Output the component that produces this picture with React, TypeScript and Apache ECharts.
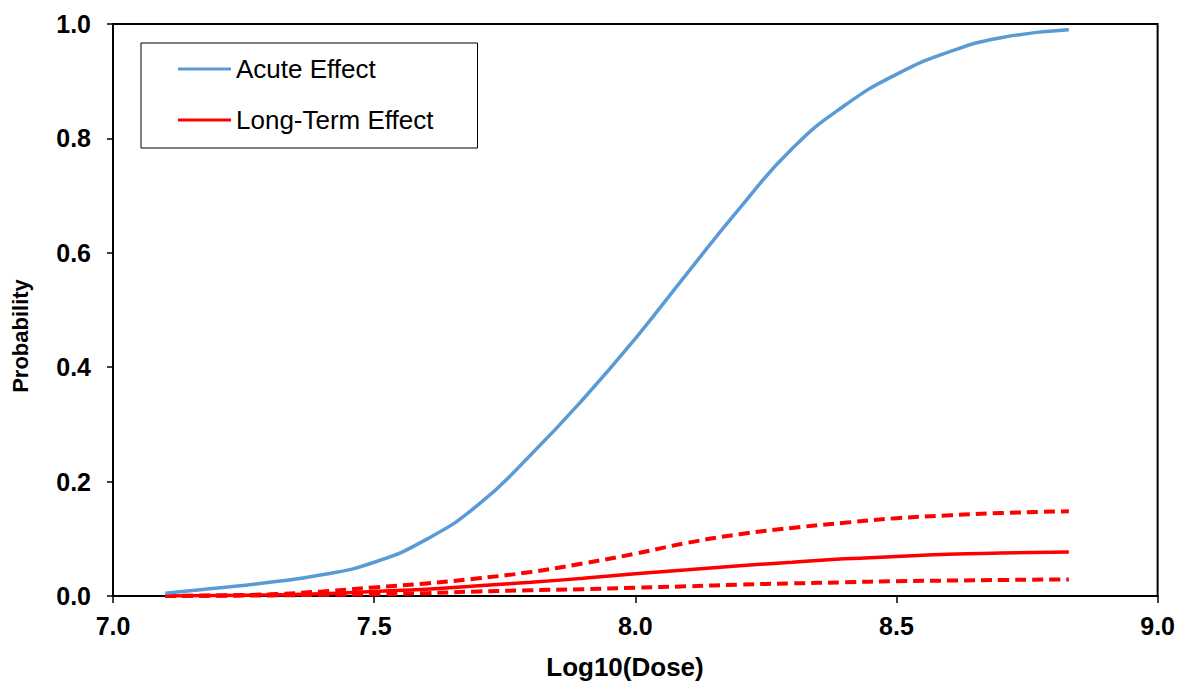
import React, { useEffect, useRef } from "react";
import * as echarts from "echarts";

const doseLog = [7.1, 7.2, 7.3, 7.4, 7.5, 7.6, 7.7, 7.8, 7.9, 8.0, 8.1, 8.2, 8.3, 8.4, 8.5, 8.6, 8.7, 8.83];
const acute = [0.005, 0.014, 0.024, 0.037, 0.059, 0.099, 0.16, 0.247, 0.344, 0.45, 0.565, 0.678, 0.782, 0.857, 0.912, 0.951, 0.976, 0.99];
const longTerm = [0.0, 0.001, 0.002, 0.004, 0.008, 0.012, 0.018, 0.024, 0.031, 0.039, 0.046, 0.053, 0.059, 0.065, 0.069, 0.073, 0.075, 0.077];
const longTermUpper = [0.0, 0.001, 0.003, 0.008, 0.015, 0.022, 0.031, 0.042, 0.057, 0.074, 0.093, 0.108, 0.119, 0.128, 0.136, 0.141, 0.145, 0.148];
const longTermLower = [0.0, 0.0005, 0.001, 0.002, 0.003, 0.005, 0.008, 0.01, 0.012, 0.0145, 0.017, 0.02, 0.022, 0.024, 0.026, 0.027, 0.028, 0.029];

const seriesNames = ["Acute Effect", "Long-Term Effect"];
const xTitle = "Log10(Dose)";
const yTitle = "Probability";

const FONT = "'Liberation Sans', Arial, Helvetica, sans-serif";

const pair = (ys: number[]) => doseLog.map((x, i) => [x, ys[i]]);

export default function App() {
  const ref = useRef<HTMLDivElement>(null);
  useEffect(() => {
    if (!ref.current) return;
    const chart = echarts.init(ref.current, undefined, { renderer: "svg" });
    const lineBase = {
      type: "line",
      smooth: 0.5,
      showSymbol: false,
      symbol: "none",
    };
    chart.setOption({
      animation: false,
      backgroundColor: "#ffffff",
      grid: {
        left: 113,
        right: 18,
        top: 24,
        bottom: 87,
        show: true,
        borderColor: "#000",
        borderWidth: 2,
        containLabel: false,
      },
      legend: {
        data: seriesNames,
        orient: "vertical",
        left: 141,
        top: 43,
        padding: [13, 44, 15, 37],
        itemGap: 25,
        itemWidth: 53,
        itemHeight: 3,
        icon: "rect",
        borderColor: "#000",
        borderWidth: 1,
        borderRadius: 0,
        textStyle: { fontFamily: FONT, fontSize: 26, color: "#000" },
      },
      xAxis: {
        type: "value",
        min: 7,
        max: 9,
        interval: 0.5,
        splitLine: { show: false },
        axisLine: { show: true, lineStyle: { color: "#000", width: 2 } },
        axisTick: { show: true, length: 7, lineStyle: { color: "#000", width: 1.5 } },
        axisLabel: {
          margin: 17,
          fontFamily: FONT,
          fontSize: 25,
          fontWeight: "bold",
          color: "#000",
          formatter: (v: number) => v.toFixed(1),
        },
      },
      yAxis: {
        type: "value",
        min: 0,
        max: 1,
        interval: 0.2,
        splitLine: { show: false },
        axisLine: { show: true, lineStyle: { color: "#000", width: 2 } },
        axisTick: { show: true, length: 6, lineStyle: { color: "#000", width: 1.5 } },
        axisLabel: {
          margin: 22,
          fontFamily: FONT,
          fontSize: 25,
          fontWeight: "bold",
          color: "#000",
          formatter: (v: number) => v.toFixed(1),
        },
      },
      graphic: [
        {
          type: "text",
          x: 625,
          y: 667,
          style: {
            text: xTitle,
            font: `bold 26px ${FONT}`,
            fill: "#000",
            align: "center",
            verticalAlign: "middle",
          },
        },
        {
          type: "text",
          x: 20,
          y: 336,
          rotation: Math.PI / 2,
          style: {
            text: yTitle,
            font: `bold 22px ${FONT}`,
            fill: "#000",
            align: "center",
            verticalAlign: "middle",
          },
        },
      ],
      series: [
        {
          ...lineBase,
          name: "Acute Effect",
          data: pair(acute),
          lineStyle: { color: "#5B9BD5", width: 3.5 },
          itemStyle: { color: "#5B9BD5" },
          z: 3,
        },
        {
          ...lineBase,
          name: "Long-Term Effect",
          data: pair(longTerm),
          lineStyle: { color: "#FF0000", width: 3.5 },
          itemStyle: { color: "#FF0000" },
          z: 2,
        },
        {
          ...lineBase,
          name: "Long-Term Upper",
          data: pair(longTermUpper),
          lineStyle: { color: "#FF0000", width: 4, type: [11, 6] },
          itemStyle: { color: "#FF0000" },
          z: 2,
        },
        {
          ...lineBase,
          name: "Long-Term Lower",
          data: pair(longTermLower),
          lineStyle: { color: "#FF0000", width: 4, type: [11, 6] },
          itemStyle: { color: "#FF0000" },
          z: 2,
        },
      ],
    });
    return () => chart.dispose();
  }, []);
  return (
    <div
      ref={ref}
      style={{ position: "fixed", left: 0, top: 0, width: 1178, height: 683, background: "#fff" }}
    />
  );
}
